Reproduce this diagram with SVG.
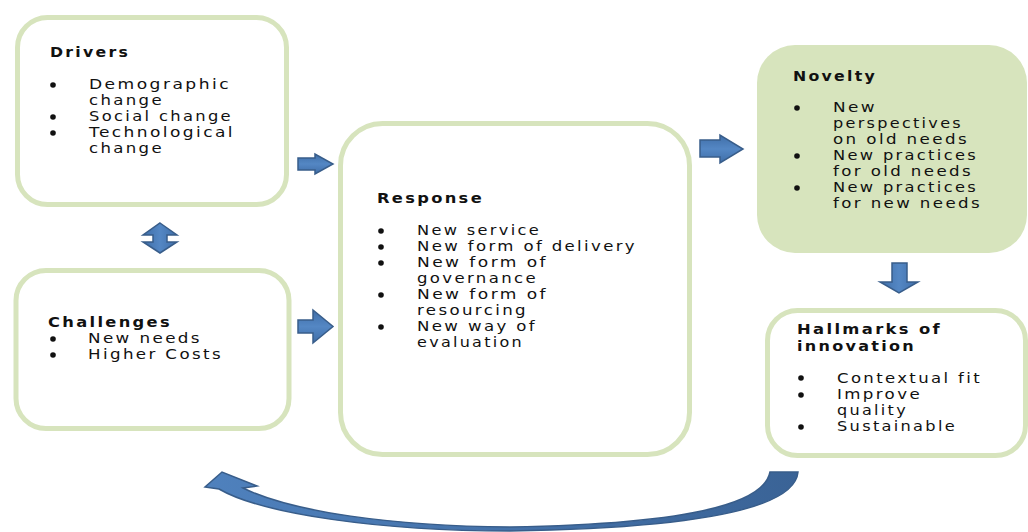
<svg xmlns="http://www.w3.org/2000/svg" width="1028" height="532" viewBox="0 0 1028 532">
<style>
.box{fill:#ffffff;stroke:#d7e4bd;stroke-width:5}
.boxf{fill:#d7e4bd;stroke:none}
text{font-family:"DejaVu Sans","Liberation Sans",sans-serif;font-size:14px;letter-spacing:2px;fill:#111}
.h{font-weight:bold}
.b{fill:#111}
.arr{fill:url(#ag);stroke:#385d8a;stroke-width:1.5;stroke-linejoin:miter}
.arrv{fill:url(#agv);stroke:#385d8a;stroke-width:1.5}
</style>
<defs>
<linearGradient id="ag" x1="0" y1="0" x2="0" y2="1">
<stop offset="0" stop-color="#3f6ea8"/><stop offset="0.5" stop-color="#5487c4"/><stop offset="1" stop-color="#3f6ea8"/>
</linearGradient>
<linearGradient id="agv" x1="0" y1="0" x2="1" y2="0">
<stop offset="0" stop-color="#3f6ea8"/><stop offset="0.5" stop-color="#5487c4"/><stop offset="1" stop-color="#3f6ea8"/>
</linearGradient>
<linearGradient id="cg" x1="0" y1="0" x2="1" y2="0">
<stop offset="0" stop-color="#4f81bd"/><stop offset="1" stop-color="#3a6396"/>
</linearGradient>
</defs>

<g id="drivers">
<rect class="box" x="17.5" y="17.5" width="269" height="187" rx="30"/>
<text class="h" x="50" y="57" textLength="80" lengthAdjust="spacingAndGlyphs">Drivers</text>
<circle class="b" cx="53" cy="85" r="2.8"/>
<circle class="b" cx="53" cy="117" r="2.8"/>
<circle class="b" cx="53" cy="133" r="2.8"/>
<text x="89" y="89" textLength="142" lengthAdjust="spacingAndGlyphs">Demographic</text>
<text x="89" y="105" textLength="75" lengthAdjust="spacingAndGlyphs">change</text>
<text x="89" y="121" textLength="144" lengthAdjust="spacingAndGlyphs">Social change</text>
<text x="89" y="137" textLength="146" lengthAdjust="spacingAndGlyphs">Technological</text>
<text x="89" y="153" textLength="75" lengthAdjust="spacingAndGlyphs">change</text>
</g>

<g id="challenges">
<rect class="box" x="16" y="270.5" width="273" height="158" rx="30"/>
<text class="h" x="48" y="327" textLength="124" lengthAdjust="spacingAndGlyphs">Challenges</text>
<circle class="b" cx="53" cy="339" r="2.8"/>
<circle class="b" cx="53" cy="355" r="2.8"/>
<text x="88" y="343" textLength="114" lengthAdjust="spacingAndGlyphs">New needs</text>
<text x="88" y="359" textLength="135" lengthAdjust="spacingAndGlyphs">Higher Costs</text>
</g>

<g id="response">
<rect class="box" x="340.5" y="123.5" width="349" height="331" rx="42"/>
<text class="h" x="377" y="203" textLength="107" lengthAdjust="spacingAndGlyphs">Response</text>
<circle class="b" cx="381" cy="231" r="2.8"/>
<circle class="b" cx="381" cy="247" r="2.8"/>
<circle class="b" cx="381" cy="263" r="2.8"/>
<circle class="b" cx="381" cy="295" r="2.8"/>
<circle class="b" cx="381" cy="327" r="2.8"/>
<text x="417" y="235" textLength="124" lengthAdjust="spacingAndGlyphs">New service</text>
<text x="417" y="251" textLength="220" lengthAdjust="spacingAndGlyphs">New form of delivery</text>
<text x="417" y="267" textLength="131" lengthAdjust="spacingAndGlyphs">New form of</text>
<text x="417" y="283" textLength="121" lengthAdjust="spacingAndGlyphs">governance</text>
<text x="417" y="299" textLength="131" lengthAdjust="spacingAndGlyphs">New form of</text>
<text x="417" y="315" textLength="111" lengthAdjust="spacingAndGlyphs">resourcing</text>
<text x="417" y="331" textLength="120" lengthAdjust="spacingAndGlyphs">New way of</text>
<text x="417" y="347" textLength="107" lengthAdjust="spacingAndGlyphs">evaluation</text>
</g>

<g id="novelty">
<rect class="boxf" x="757" y="45" width="270" height="208" rx="38"/>
<text class="h" x="793" y="81" textLength="84" lengthAdjust="spacingAndGlyphs">Novelty</text>
<circle class="b" cx="797" cy="108" r="2.8"/>
<circle class="b" cx="797" cy="156" r="2.8"/>
<circle class="b" cx="797" cy="188" r="2.8"/>
<text x="833" y="112" textLength="44" lengthAdjust="spacingAndGlyphs">New</text>
<text x="833" y="128" textLength="130" lengthAdjust="spacingAndGlyphs">perspectives</text>
<text x="833" y="144" textLength="136" lengthAdjust="spacingAndGlyphs">on old needs</text>
<text x="833" y="160" textLength="145" lengthAdjust="spacingAndGlyphs">New practices</text>
<text x="833" y="176" textLength="140" lengthAdjust="spacingAndGlyphs">for old needs</text>
<text x="833" y="192" textLength="145" lengthAdjust="spacingAndGlyphs">New practices</text>
<text x="833" y="208" textLength="149" lengthAdjust="spacingAndGlyphs">for new needs</text>
</g>

<g id="hallmarks">
<rect class="box" x="767.5" y="310.5" width="258" height="145" rx="30"/>
<text class="h" x="797" y="334" textLength="145" lengthAdjust="spacingAndGlyphs">Hallmarks of</text>
<text class="h" x="797" y="351" textLength="119" lengthAdjust="spacingAndGlyphs">innovation</text>
<circle class="b" cx="801" cy="378" r="2.8"/>
<circle class="b" cx="801" cy="395" r="2.8"/>
<circle class="b" cx="801" cy="427" r="2.8"/>
<text x="837" y="383" textLength="145" lengthAdjust="spacingAndGlyphs">Contextual fit</text>
<text x="837" y="399" textLength="85" lengthAdjust="spacingAndGlyphs">Improve</text>
<text x="837" y="415" textLength="71" lengthAdjust="spacingAndGlyphs">quality</text>
<text x="837" y="431" textLength="120" lengthAdjust="spacingAndGlyphs">Sustainable</text>
</g>

<g id="connectors">
<polygon class="arr" points="298,158 315,158 315,154 333,164 315,174 315,170 298,170"/>
<polygon class="arr" points="298,320 313,320 313,310 333,326.5 313,343 313,333 298,333"/>
<polygon class="arr" points="700,140 720,140 720,135 743,149 720,163 720,157 700,157"/>
<polygon class="arrv" points="892,263 907,263 907,282 918,282 899,293 880,282 892,282"/>
<polygon class="arrv" points="160,223 177,235 167,235 167,242 177,242 160,253 143,242 153,242 153,235 143,235"/>
<path fill="url(#cg)" stroke="#385d8a" stroke-width="1.5" stroke-linejoin="miter" d="M798,472 C795,508 700,528 510,531 C380,531 262,514 219,489 L205,487 L222,472 L257,486 L243,488 C292,512 392,526 510,527 C690,524 764,504 770,472 Z"/>
</g>
</svg>
